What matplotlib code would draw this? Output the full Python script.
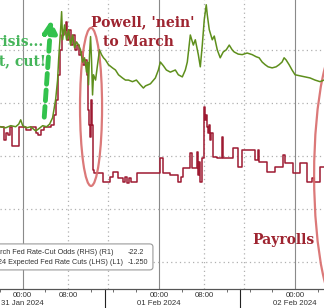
import matplotlib
matplotlib.use("Agg")
import matplotlib.pyplot as plt
from matplotlib.patches import Ellipse, FancyBboxPatch

# ---------------- data (hours from 31 Jan 2024 00:00) ----------------
green_hours = [-3.87, -3.0, -2.11, -1.23, -0.70, -0.35, 0.0, 0.70, 1.41, 2.29,
               2.81, 3.52, 4.22, 4.75, 5.27, 5.80, 6.15, 6.33, 6.68, 6.86,
               7.03, 7.38, 7.74, 8.09, 8.44, 8.79, 9.14, 9.49, 9.85, 10.20,
               10.55, 10.90, 11.08, 11.25, 11.43, 11.60, 11.78, 11.96, 12.13, 12.31,
               12.48, 12.84, 13.19, 13.54, 13.89, 14.24, 14.59, 15.12, 15.82, 16.35,
               16.88, 17.58, 18.11, 18.64, 19.34, 20.04, 20.75, 21.27, 21.63, 22.51,
               23.38, 23.91, 24.26, 24.79, 25.32, 26.02, 26.90, 27.43, 28.13, 28.66,
               29.01, 29.54, 30.07, 30.42, 30.95, 31.30, 31.65, 32.00, 32.35, 32.53,
               32.88, 33.41, 33.76, 34.29, 34.81, 35.34, 35.87, 36.40, 36.92, 37.27,
               37.98, 38.68, 39.56, 40.44, 41.14, 41.67, 42.20, 42.73, 43.25, 43.96,
               44.66, 45.19, 45.71, 46.07, 46.42, 46.95, 47.47, 48.00, 48.88, 49.76,
               50.64, 51.52, 52.40, 53.10]
# 2024 expected Fed rate cuts (LHS)
expected_cuts = [-1.255, -1.253, -1.257, -1.255, -1.260, -1.268, -1.257, -1.253, -1.255, -1.247,
                 -1.251, -1.257, -1.255, -1.260, -1.272, -1.306, -1.343, -1.381, -1.438, -1.472,
                 -1.419, -1.447, -1.419, -1.438, -1.409, -1.428, -1.404, -1.415, -1.409, -1.400,
                 -1.377, -1.385, -1.372, -1.358, -1.377, -1.334, -1.391, -1.425, -1.381, -1.315,
                 -1.353, -1.343, -1.372, -1.400, -1.391, -1.385, -1.381, -1.372, -1.366, -1.362,
                 -1.353, -1.347, -1.343, -1.343, -1.340, -1.343, -1.334, -1.328, -1.332, -1.336,
                 -1.347, -1.362, -1.377, -1.370, -1.362, -1.358, -1.362, -1.353, -1.349, -1.362,
                 -1.377, -1.428, -1.409, -1.419, -1.391, -1.368, -1.409, -1.457, -1.485, -1.466,
                 -1.438, -1.419, -1.426, -1.400, -1.385, -1.396, -1.400, -1.409, -1.400, -1.396,
                 -1.392, -1.391, -1.394, -1.391, -1.387, -1.385, -1.377, -1.372, -1.368, -1.366,
                 -1.368, -1.372, -1.377, -1.385, -1.381, -1.372, -1.362, -1.353, -1.351, -1.349,
                 -1.347, -1.343, -1.340, -1.343]

red_hours = [-3.87, -3.34, -2.99, -2.64, -2.29, -1.93, -0.70, 0.53, 1.41, 2.29,
             2.64, 3.16, 3.69, 4.92, 5.45, 5.80, 6.15, 6.51, 6.86, 7.21,
             7.56, 7.74, 8.09, 8.44, 8.79, 9.14, 9.49, 9.85, 10.20, 10.55,
             10.90, 11.25, 11.43, 11.60, 11.78, 11.96, 12.13, 12.31, 12.40, 12.48,
             14.07, 15.47, 16.00, 16.88, 17.76, 18.11, 18.46, 18.81, 19.16, 20.22,
             24.26, 24.79, 26.02, 27.43, 27.96, 28.31, 29.54, 29.89, 30.77, 30.95,
             31.12, 31.30, 31.65, 32.00, 32.18, 32.35, 32.53, 32.70, 32.88, 33.05,
             33.23, 33.58, 34.29, 35.16, 35.34, 37.10, 37.98, 38.68, 40.97, 41.49,
             41.67, 43.08, 44.48, 45.89, 46.24, 47.65, 48.88, 50.11, 50.99, 51.34,
             52.40, 53.10]
# March Fed rate-cut odds (RHS)
march_odds = [-48.2, -44.5, -46.5, -45.9, -48.2, -42.8, -48.2, -47.4, -48.2, -46.5,
              -45.9, -47.4, -48.2, -48.8, -51.6, -55.8, -62.9, -70.0, -74.2, -75.7,
              -77.9, -72.8, -75.7, -71.4, -74.2, -70.0, -71.4, -68.6, -69.4, -65.8,
              -67.2, -62.9, -53.0, -48.8, -45.4, -55.8, -48.8, -41.7, -36.0, -35.2,
              -32.6, -34.1, -35.5, -33.8, -32.6, -34.1, -32.4, -33.8, -32.6, -35.2,
              -39.4, -35.2, -34.6, -32.6, -34.1, -36.6, -40.8, -36.6, -41.1, -34.6,
              -38.3, -32.6, -39.4, -53.9, -50.2, -51.6, -48.2, -46.5, -48.8, -44.5,
              -46.5, -39.7, -39.4, -45.4, -39.4, -42.3, -36.9, -41.7, -38.9, -41.7,
              -38.3, -35.5, -36.9, -40.3, -38.0, -35.2, -38.0, -32.6, -33.8, -32.6,
              -36.9, -36.9]

tick_hours = [0, 8, 24, 32, 48]
tick_labels = ["00:00\n31 Jan 2024", "08:00", "00:00\n01 Feb 2024", "08:00", "00:00\n02 Feb 2024"]
legend_labels = ["March Fed Rate-Cut Odds (RHS) (R1)", "2024 Expected Fed Rate Cuts (LHS) (L1)"]
legend_values = ["-22.2", "-1.250"]

GREEN = "#5e8f1c"
RED = "#9e1a32"
NOTE_RED = "#9e2430"
NOTE_GREEN = "#45b55a"
SANS = "Liberation Sans"
SERIF = "DejaVu Serif"

fig = plt.figure(figsize=(3.24, 3.08), dpi=100)
ax = fig.add_axes([0, 19 / 308, 1, 289 / 308])
ax2 = ax.twinx()

# red odds on host axis, green cuts on top
ax.plot(red_hours, march_odds, color=RED, lw=1.1, drawstyle="steps-post", zorder=3)
ax2.plot(green_hours, expected_cuts, color=GREEN, lw=1.1, zorder=3)

ax.set_xlim(-3.87, 53.1)
ax.set_ylim(-2.36, -84.15)
ax2.set_ylim(-0.949, -1.494)

# grid
ax.set_yticks([-70, -55, -40, -25, -10])
ax.yaxis.grid(True, color="#b0b0b0", ls=(0, (1, 2.5)), lw=0.9)
ax.tick_params(axis="y", left=False, labelleft=False)
ax2.tick_params(axis="y", right=False, labelright=False)
for h in [8, 15, 32, 39]:
    ax.axvline(h, color="#b0b0b0", ls=(0, (1, 2.5)), lw=0.9, zorder=1)
for h in [0, 24, 48]:
    ax.axvline(h, color="#8a8a8a", lw=0.8, zorder=1)

for a in (ax, ax2):
    for s in ("top", "left", "right"):
        a.spines[s].set_visible(False)
    a.spines["bottom"].set_color("#555555")
    a.spines["bottom"].set_linewidth(0.8)

ax.set_xticks(tick_hours)
ax.set_xticklabels(tick_labels, fontsize=5.6, family=SANS, color="#333333", linespacing=1.1)
ax.set_xticks(range(-4, 54, 4), minor=True)
ax.tick_params(axis="x", which="major", length=0, pad=2.5)
ax.tick_params(axis="x", which="minor", length=2.5, width=0.6, color="#555555")

# session separators under the axis
for h in [14.42, 38.33]:
    ax.axvline(h, ymin=-0.07, ymax=0, color="#222222", lw=0.8, clip_on=False)

# annotations
serif_kw = dict(family=SERIF, fontweight="bold", fontsize=10, transform=ax.transAxes)
ax.text(0.136, 0.855, "Crisis...", color=NOTE_GREEN, ha="right", va="center", **serif_kw)
ax.text(0.141, 0.789, "Cut, cut, cut!", color=NOTE_GREEN, ha="right", va="center", **serif_kw)
ax.annotate("", xy=(0.158, 0.94), xytext=(0.136, 0.585), xycoords="axes fraction",
            arrowprops=dict(arrowstyle="-|>,head_length=0.7,head_width=0.4", color="#33c24d",
                            lw=3.5, ls=(0, (2.2, 1.2))))
ax.text(0.440, 0.924, "Powell, 'nein'", color=NOTE_RED, ha="center", va="center", **serif_kw)
ax.text(0.428, 0.855, "to March", color=NOTE_RED, ha="center", va="center", **serif_kw)
ax.text(0.876, 0.170, "Payrolls", color=NOTE_RED, ha="center", va="center", **serif_kw)

ax.add_patch(Ellipse((0.281, 0.630), 0.068, 0.547, transform=ax.transAxes, fill=False,
                     ec="#d86a6a", lw=1.6, alpha=0.9, zorder=5))
ax.add_patch(Ellipse((1.062, 0.394), 0.185, 0.969, transform=ax.transAxes, fill=False,
                     ec="#d86a6a", lw=1.6, alpha=0.9, zorder=5, clip_on=False))

# legend box (left part cut off in the original)
ax.add_patch(FancyBboxPatch((-0.08, 0.066), 0.552, 0.09, boxstyle="round,pad=0,rounding_size=0.01",
                            transform=ax.transAxes, fc="white", ec="#9a9a9a", lw=0.8, zorder=6))
ax.text(0.349, 0.125, legend_labels[0], ha="right", va="center", fontsize=5.2, family=SANS,
        color="#333333", transform=ax.transAxes, zorder=7)
ax.text(0.380, 0.093, legend_labels[1], ha="right", va="center", fontsize=5.2, family=SANS,
        color="#333333", transform=ax.transAxes, zorder=7)
ax.text(0.395, 0.125, legend_values[0], ha="left", va="center", fontsize=5.2, family=SANS,
        color="#333333", transform=ax.transAxes, zorder=7)
ax.text(0.395, 0.093, legend_values[1], ha="left", va="center", fontsize=5.2, family=SANS,
        color="#333333", transform=ax.transAxes, zorder=7)

fig.savefig("out.png", dpi=100)
